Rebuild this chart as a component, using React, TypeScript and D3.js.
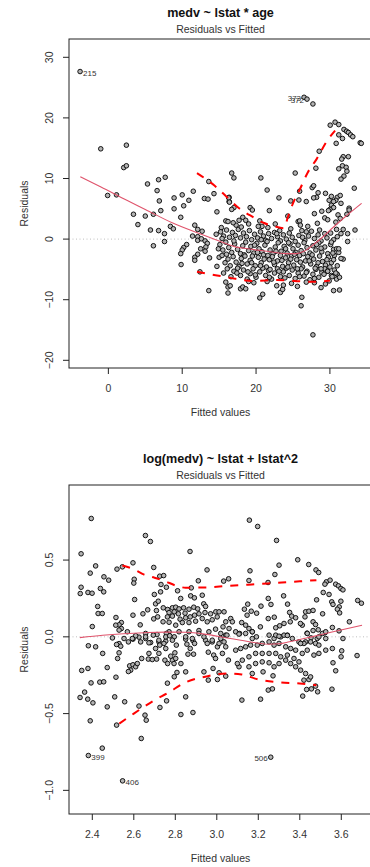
import React from 'react';
import * as d3 from 'd3';

// ---- panel 1: medv ~ lstat * age, [fitted, residual] ----
const pointsAge: [number, number][] = [
  [-3.83,27.65],[26.5,23.4],[26.9,23.1],[27.7,22.3],
  [-1.03,14.9],[2.44,15.5],[2.08,11.8],[2.44,12.1],
  [30.04,18.8],[30.7,19.3],[31.2,18.9],[31.9,18.1],[32.25,17.8],[32.5,17.6],[32.8,17.2],[33.1,16.9],
  [31.2,17.2],[31.7,16.6],[30.85,15.8],[34.1,15.9],[34.25,15.8],[28.55,14.5],[31.8,13.6],[32.5,13.6],
  [31.6,13.2],[31.2,11.6],[31.7,12.1],[32.2,11.85],[32.3,11.2],[31.9,10.4],[31.5,9.9],[28.1,11.7],
  [25.3,10.9],[16.7,10.9],[17.0,10.1],[20.65,10.1],[21.5,8.1],[25.9,7.9],[27.6,8.5],[27.8,8.8],
  [33.3,8.4],[23.1,6.8],[16.35,6.9],[16.35,6.2],[28.4,7.65],[28.2,6.9],[27.8,6.8],[29.4,7.55],
  [30.2,7.05],[31.0,6.9],[31.4,7.2],[31.5,5.9],[29.9,6.4],[24.7,6.3],[25.8,6.45],[26.8,6.2],
  [32.6,5.1],[30.2,5.6],[30.5,5.2],[30.8,6.4],[30.5,6.2],
  [5.3,9.1],[6.8,9.8],[7.7,10.2],[6.6,8.0],[-0.1,7.2],[1.1,7.3],[6.9,6.3],[8.9,6.8],[10.0,7.3],
  [10.9,6.4],[11.5,7.9],[10.2,5.5],[8.9,5.0],[7.1,4.7],[3.4,4.1],[5.0,3.8],[6.1,4.1],[9.8,3.6],
  [4.0,2.4],[5.7,1.5],[6.8,1.4],[7.6,0.9],[8.4,2.1],[8.8,1.7],[7.6,-0.4],[6.1,-1.1],
  [11.7,2.3],[12.1,1.6],[12.7,1.3],[11.4,0.5],[12.1,0.4],[12.1,-0.2],[12.6,0.05],[13.1,-0.3],
  [13.4,-0.7],[13.2,-1.3],[12.5,-1.6],[13.1,-2.0],[12.1,-2.5],[11.7,-3.0],[11.7,-3.5],[10.6,-0.9],
  [10.2,-1.4],[10.0,-1.8],[9.8,-2.4],[9.85,-4.2],[12.4,-5.4],[13.6,-8.5],[13.7,-3.1],[14.7,-4.5],
  [14.9,-1.6],[14.6,0.8],[14.7,4.5],[14.3,7.5],[13.0,6.7],[13.5,6.6],[13.6,9.5],
  [18.2,3.6],[18.6,3.1],[17.7,3.1],[17.3,2.3],[16.9,2.7],[15.9,3.0],[16.2,2.9],[15.3,1.9],[20.5,3.0],
  [20.8,2.1],[20.3,2.1],[25.7,2.9],[25.9,3.0],[26.0,2.3],[24.7,1.7],[27.0,2.1],
  [27.9,4.2],[28.9,4.6],[30.0,4.9],[29.8,4.7],[32.6,4.8],[32.3,4.1],[31.1,4.0],[24.3,3.8],[21.8,4.7],
  [19.2,5.2],[19.5,4.8],[16.3,6.8],[16.4,6.1],[17.0,5.2],[16.7,4.9],[28.3,2.6],[29.3,3.5],[29.7,3.2],
  [30.8,2.8],[30.9,1.6],[31.8,1.6],[31.4,3.4],[32.4,0.9],[33.4,1.5],[22.6,2.5],[23.2,1.4],[19.0,2.5],
  [21.6,1.9],[26.8,1.2],[28.6,1.5],
  [15.2,1.2],[15.6,0.5],[16.0,1.5],[16.4,0.3],[16.8,1.1],[17.2,0.6],[17.6,1.6],[17.9,0.2],[18.3,1.0],
  [18.7,0.4],[19.1,1.4],[19.4,-0.1],[19.8,0.8],[20.2,0.2],[20.6,1.2],[21.0,0.5],[21.3,-0.2],[21.7,0.9],
  [22.1,0.1],[22.5,1.1],[22.9,0.4],[23.3,-0.3],[23.7,0.7],[24.1,0.0],[24.5,1.0],[24.9,0.3],[25.3,-0.4],
  [25.8,0.6],[26.2,1.4],[26.6,-0.2],[27.1,0.5],[27.5,1.3],[27.9,0.1],[28.4,0.7],[28.8,-0.3],[29.3,0.9],
  [29.6,0.2],[30.1,1.0],[30.5,-0.1],[31.0,0.4],[31.5,0.9],
  [15.1,-0.9],[15.5,-1.8],[15.9,-0.5],[16.3,-1.4],[16.7,-2.2],[17.1,-0.8],[17.5,-1.7],[17.9,-2.4],
  [18.2,-1.1],[18.6,-0.5],[19.0,-1.9],[19.3,-1.2],[19.7,-2.3],[20.1,-0.7],[20.4,-1.6],[20.8,-2.1],
  [21.2,-1.0],[21.5,-0.4],[21.9,-1.8],[22.3,-2.4],[22.6,-1.3],[23.0,-0.6],[23.4,-2.0],[23.8,-1.2],
  [24.2,-2.3],[24.6,-0.8],[25.0,-1.6],[25.4,-2.2],[25.7,-1.0],[26.1,-1.9],[26.5,-0.6],[26.9,-1.4],
  [27.3,-2.3],[27.7,-1.1],[28.1,-1.8],[28.5,-0.6],[28.9,-2.1],[29.3,-1.3],[29.7,-2.4],[30.1,-0.9],
  [30.5,-1.7],[30.9,-1.6],[31.2,-2.2],
  [15.0,-3.0],[15.4,-2.7],[15.8,-3.9],[16.2,-3.3],[16.5,-4.4],[16.9,-2.9],[17.3,-3.8],[17.7,-4.5],
  [18.0,-3.2],[18.4,-2.6],[18.8,-4.1],[19.2,-3.5],[19.5,-2.8],[19.9,-4.4],[20.3,-3.0],[20.7,-3.9],
  [21.0,-2.6],[21.4,-4.6],[21.8,-3.4],[22.2,-2.9],[22.5,-4.2],[22.9,-3.6],[23.3,-2.7],[23.6,-4.5],
  [24.0,-3.1],[24.4,-3.9],[24.8,-2.8],[25.1,-4.3],[25.5,-3.4],[25.9,-2.7],[26.3,-4.6],[26.7,-3.6],
  [27.0,-2.9],[27.4,-4.1],[27.8,-3.3],[28.2,-4.5],[28.6,-2.8],[29.0,-3.7],[29.4,-4.3],[29.8,-3.0],
  [30.2,-3.9],[30.6,-2.7],[31.0,-4.4],
  [15.6,-5.6],[16.1,-4.9],[16.6,-6.2],[17.0,-5.3],[17.5,-4.8],[17.9,-6.0],[18.3,-5.1],[18.8,-6.6],
  [19.2,-5.7],[19.6,-4.9],[20.0,-6.3],[20.5,-5.4],[20.9,-4.8],[21.3,-6.0],[21.7,-5.2],[22.1,-6.6],
  [22.5,-5.6],[22.9,-4.9],[23.3,-6.2],[23.7,-5.4],[24.1,-4.8],[24.5,-6.0],[24.9,-5.1],[25.3,-6.5],
  [25.7,-5.6],[26.1,-4.9],[26.5,-6.1],[26.9,-5.3],[27.3,-6.7],[27.7,-5.8],[28.1,-5.0],[28.5,-6.3],
  [28.9,-5.5],[29.3,-4.9],[29.7,-5.3],[30.2,-6.0],[30.6,-5.1],[31.0,-5.8],
  [15.9,-7.1],[16.2,-7.9],[16.5,-7.7],[16.2,-8.9],[17.9,-8.2],[18.2,-7.9],[18.6,-8.2],[19.7,-7.2],
  [20.5,-9.7],[20.9,-9.1],[22.8,-7.7],[23.3,-8.8],[23.6,-8.3],[23.7,-7.6],[26.2,-9.6],[26.1,-11.0],
  [27.7,-15.8],[28.8,-8.0],[30.5,-8.5],[31.3,-8.4],[30.9,-6.6],[31.3,-6.3],[30.3,-6.2],[29.7,-5.3],
  [28.8,-4.9],[31.8,-3.3],[31.2,-1.6],[32.4,-0.4],[30.5,-3.4],
  [21.5,-7.0],[24.8,-7.3],[26.8,-7.1],[29.4,-7.4],[19.0,-7.0],[25.6,-7.8],[27.9,-7.2],
  [18.5,-2.8],[19.4,-3.9],[20.2,-2.2],[21.1,-3.3],[21.9,-5.0],[22.7,-2.0],[23.5,-3.5],[24.3,-4.6],
  [25.2,-2.5],[26.0,-3.8],[26.8,-5.5],[27.6,-2.6],[28.4,-3.9],[29.2,-5.8],[30.0,-4.6],
  [18.9,-5.4],[19.8,-1.0],[20.6,-4.4],[21.6,-2.7],[22.4,-3.8],[23.1,-5.3],[24.0,-1.6],[24.7,-3.3],
  [25.6,-4.9],[26.4,-2.4],[27.2,-3.6],[28.0,-4.8],[28.8,-1.5],[29.6,-3.4],[30.4,-2.3],
  [17.4,-5.6],[18.1,-4.0],[19.9,-5.9],[21.8,-6.3],[23.9,-6.4],[25.9,-6.2],[27.9,-6.5],[29.9,-6.9],
  [20.7,-0.1],[22.8,0.9],[24.4,-0.6],[26.3,0.3],[28.2,-0.9],[30.2,-0.5],[17.0,-0.3],[16.0,-2.5],
  [15.4,0.1],[18.0,2.0],[31.5,-3.2],[30.8,-5.6],
];
const smoothFitAge = [-3.8, -1, 2.5, 5, 8.8, 12.4, 15, 17, 19.5, 21.5, 24, 25.5, 26.5, 27.8, 29, 30.5, 32, 34.3];
const smoothResAge = [10.3, 8.6, 6.4, 4.9, 2.6, 0.9, -0.3, -1.2, -1.7, -2.0, -2.4, -2.4, -2.0, -0.9, 0.3, 2.0, 3.6, 5.9];
const upperFitAge = [12.0, 14.4, 16.0, 17.7, 19.5, 21.0, 22.5, 23.8, 24.3, 25.0, 26.0, 27.0, 28.2, 29.5, 30.7];
const upperResAge = [10.9, 8.8, 7.0, 5.1, 3.7, 2.7, 2.1, 1.8, 3.6, 5.9, 8.4, 11.0, 13.2, 16.0, 17.9];
const lowerFitAge = [12.0, 14.5, 16.5, 19.5, 22.8, 25.2, 27.5, 30.0];
const lowerResAge = [-5.4, -5.95, -6.4, -6.9, -6.75, -6.9, -7.05, -6.85];
const labelsAge = [
  { id: '215', f: -3.83, r: 27.65, side: 'right' },
  { id: '373', f: 26.5, r: 23.4, side: 'left' },
  { id: '372', f: 26.9, r: 23.1, side: 'left' },
];
const xTicksAge = [0, 10, 20, 30];
const yTicksAge = [-20, -10, 0, 10, 20, 30];

// ---- panel 2: log(medv) ~ lstat + lstat^2 ----
const pointsLog: [number, number][] = [
  [2.395,0.771],[2.656,0.660],[2.680,0.621],[2.346,0.541],[2.871,0.556],[2.416,0.462],[2.390,0.415],
  [2.456,0.391],[2.479,0.369],[2.519,0.441],[2.545,0.456],[2.596,0.482],[2.696,0.452],[2.602,0.375],
  [2.600,0.350],[2.725,0.395],[2.744,0.399],[2.731,0.341],[2.757,0.323],[2.346,0.323],[2.342,0.282],
  [2.379,0.289],[2.399,0.284],[2.439,0.315],[2.455,0.293],[2.911,0.365],[2.953,0.436],[2.811,0.300],
  [2.877,0.319],[2.699,0.276],[2.729,0.293],[2.604,0.243],[2.426,0.198],[2.428,0.152],[2.448,0.152],
  [2.514,0.126],[2.540,0.093],[2.529,0.078],[2.540,0.054],[2.513,0.076],[2.400,0.067],[2.596,0.141],
  [2.631,0.078],[2.644,0.150],[2.667,0.176],[2.696,0.117],[2.709,0.171],[2.715,0.130],[2.705,0.215],
  [2.718,0.232],[2.826,0.250],[2.874,0.267],[2.892,0.254],[2.930,0.271],[2.937,0.215],[2.946,0.198],
  [2.742,0.189],[2.763,0.178],[2.786,0.189],[2.802,0.193],[2.818,0.182],[2.840,0.189],[2.866,0.180],
  [2.889,0.193],[2.908,0.182],[2.770,0.158],[2.795,0.163],[2.815,0.150],[2.847,0.154],[2.762,0.130],
  [2.786,0.135],[2.823,0.115],[2.850,0.124],[2.872,0.130],[2.893,0.141],[2.914,0.150],[2.943,0.158],
  [2.970,0.150],[2.995,0.163],[2.741,0.098],[2.770,0.095],[2.802,0.076],[2.834,0.093],[2.866,0.093],
  [2.898,0.102],[2.930,0.119],[2.954,0.098],[2.978,0.111],[3.002,0.130],[2.770,0.033],[2.818,0.033],
  [2.866,0.033],[2.914,0.041],[2.962,0.033],[2.994,0.050],[2.497,-0.007],[2.553,-0.011],[2.596,-0.015],
  [2.625,-0.002],[2.657,-0.011],[2.712,0.015],[2.757,0.022],[2.795,0.000],[2.850,-0.015],[2.885,-0.024],
  [2.946,-0.022],[2.978,-0.033],[2.529,-0.044],[2.574,-0.033],[2.681,-0.037],[2.721,-0.033],[2.754,-0.028],
  [3.157,0.760],[3.197,0.719],[3.288,0.628],[3.390,0.502],[3.443,0.471],[3.300,0.467],[3.280,0.406],
  [3.247,0.354],[3.160,0.430],[3.155,0.367],[3.033,0.363],[3.057,0.378],[3.478,0.436],[3.491,0.419],
  [3.528,0.358],[3.546,0.369],[3.521,0.343],[3.513,0.289],[3.541,0.276],[3.573,0.343],[3.586,0.332],
  [3.598,0.315],[3.608,0.306],[3.679,0.237],[3.697,0.219],[3.322,0.267],[3.481,0.241],[3.341,0.213],
  [3.248,0.250],[3.261,0.211],[3.213,0.200],[3.149,0.213],[3.133,0.180],[3.166,0.167],[3.146,0.141],
  [3.192,0.154],[3.554,0.228],[3.560,0.211],[3.598,0.232],[3.590,0.195],[3.581,0.180],[3.592,0.156],
  [3.510,0.150],[3.639,0.098],[3.608,-0.011],[3.351,0.159],[3.361,0.135],[3.380,0.124],[3.354,0.098],
  [3.248,0.119],[3.277,0.128],[3.324,0.087],[3.303,0.072],[3.284,0.059],[3.210,0.065],
  [3.428,0.163],[3.444,0.167],[3.464,0.172],[3.425,0.130],[3.464,0.098],[3.476,0.080],[3.412,0.076],
  [3.403,0.087],[3.435,0.024],[3.464,0.041],[3.489,0.046],[3.521,0.026],[3.454,-0.007],[3.484,-0.011],
  [3.525,-0.011],[3.557,0.061],[3.589,0.039],
  [3.011,0.163],[3.035,0.163],[3.043,0.098],[3.067,0.119],[3.075,0.098],[3.030,0.065],[3.059,0.054],
  [3.091,0.033],[3.120,0.093],[3.139,0.076],[3.155,0.054],[3.171,0.033],[3.110,0.022],[3.191,0.000],
  [3.171,-0.011],[3.043,0.011],[3.019,-0.011],[3.252,0.011],[3.276,-0.011],[3.308,0.000],[3.340,0.011],
  [3.364,-0.011],[3.396,-0.033],[3.428,-0.033],
  [2.381,-0.058],[2.416,-0.065],[2.450,-0.108],[2.349,-0.219],[2.379,-0.206],[2.394,-0.300],[2.436,-0.295],
  [2.455,-0.293],[2.363,-0.360],[2.341,-0.395],[2.378,-0.406],[2.403,-0.430],[2.390,-0.547],[2.448,-0.725],
  [2.381,-0.773],[2.546,-0.938],[2.517,-0.575],[2.472,-0.456],[2.508,-0.391],[2.556,-0.423],[2.514,-0.263],
  [2.472,-0.200],[2.529,-0.104],[2.522,-0.141],[2.537,-0.061],[2.517,-0.050],[2.625,-0.451],[2.654,-0.510],
  [2.660,-0.543],[2.636,-0.662],[2.726,-0.460],[2.762,-0.302],[2.758,-0.417],[2.795,-0.260],[2.808,-0.232],
  [2.827,-0.506],[2.850,-0.391],[2.885,-0.493],[2.850,-0.228],[2.938,-0.228],[2.959,-0.282],
  [2.580,-0.189],[2.596,-0.182],[2.609,-0.195],[2.617,-0.174],[2.585,-0.217],[2.574,-0.226],[2.638,-0.141],
  [2.673,-0.108],[2.670,-0.145],[2.689,-0.148],[2.710,-0.145],[2.721,-0.108],[2.705,-0.076],[2.750,-0.152],
  [2.763,-0.174],[2.786,-0.152],[2.802,-0.141],[2.794,-0.174],[2.827,-0.174],[2.778,-0.126],[2.798,-0.104],
  [2.805,-0.054],[2.786,-0.022],[2.754,-0.076],[2.745,-0.043],[2.721,-0.022],[2.725,-0.054],[2.754,0.000],
  [2.773,0.007],[2.694,0.011],[2.657,0.022],[2.673,-0.039],[2.609,0.007],[2.593,-0.011],[2.633,-0.033],
  [2.657,0.000],[2.861,-0.113],[2.888,-0.113],[2.872,-0.076],[2.856,-0.048],[2.893,-0.043],[2.959,-0.100],
  [2.985,-0.119],[2.994,-0.141],[2.954,-0.043],[2.978,-0.022],[3.003,-0.065],[2.982,-0.206],[3.003,-0.278],
  [2.529,0.044],[2.569,0.033],[2.850,0.000],[2.882,-0.011],[2.914,0.022],[2.938,0.000],
  [3.260,-0.784],[3.121,-0.412],[3.211,-0.406],[3.414,-0.386],[3.248,-0.347],[3.268,-0.339],[3.271,-0.254],
  [3.433,-0.343],[3.456,-0.339],[3.486,-0.358],[3.476,-0.321],[3.444,-0.278],[3.420,-0.282],[3.555,-0.341],
  [3.573,-0.221],[3.560,-0.169],[3.599,-0.130],[3.602,-0.091],[3.676,-0.122],[3.056,-0.152],
  [3.011,-0.234],[3.043,-0.256],[3.027,-0.108],[3.011,-0.043],[3.035,-0.033],[3.049,0.011],[3.019,0.022],
  [3.043,-0.065],[3.171,-0.239],[3.223,-0.228],[3.155,-0.195],[3.187,-0.174],[3.219,-0.163],[3.252,-0.169],
  [3.276,-0.195],[3.300,-0.174],[3.332,-0.152],[3.356,-0.174],[3.380,-0.195],[3.404,-0.217],[3.428,-0.239],
  [3.452,-0.261],[3.396,-0.163],[3.372,-0.141],[3.340,-0.119],[3.308,-0.130],[3.284,-0.108],[3.252,-0.108],
  [3.219,-0.108],[3.187,-0.108],[3.155,-0.130],[3.123,-0.152],[3.107,-0.195],[3.099,-0.174],[3.091,-0.087],
  [3.115,-0.076],[3.139,-0.065],[3.163,-0.054],[3.195,-0.054],[3.219,-0.043],[3.252,-0.033],[3.276,-0.054],
  [3.300,-0.043],[3.332,-0.065],[3.356,-0.076],[3.380,-0.087],[3.412,-0.108],[3.436,-0.087],[3.468,-0.119],
  [3.492,-0.108],[3.525,-0.087],[3.557,-0.076],[3.420,-0.043],[3.452,-0.033],[3.476,-0.043],[3.492,-0.054],
  [3.509,0.022],[3.525,0.033],[3.492,0.000],[3.436,0.022],[3.404,-0.043],[3.324,0.011],[3.284,0.011],
  [3.300,0.004],[3.340,0.009],[3.171,0.033],[3.139,0.022],[3.107,0.018],
];
const smoothFitLog = [2.34, 2.45, 2.55, 2.65, 2.75, 2.85, 2.95, 3.05, 3.15, 3.25, 3.30, 3.35, 3.45, 3.55, 3.70];
const smoothResLog = [-0.005, 0.010, 0.020, 0.027, 0.031, 0.030, 0.016, -0.008, -0.030, -0.048, -0.045, -0.032, -0.002, 0.030, 0.076];
const upperFitLog = [2.545, 2.60, 2.65, 2.70, 2.75, 2.80, 2.85, 2.95, 3.05, 3.15, 3.25, 3.35, 3.48];
const upperResLog = [0.465, 0.440, 0.405, 0.385, 0.363, 0.335, 0.320, 0.322, 0.332, 0.340, 0.348, 0.357, 0.369];
const lowerFitLog = [2.53, 2.60, 2.65, 2.70, 2.76, 2.85, 2.95, 3.05, 3.12, 3.20, 3.30, 3.40, 3.48];
const lowerResLog = [-0.565, -0.500, -0.455, -0.412, -0.369, -0.296, -0.258, -0.238, -0.245, -0.278, -0.296, -0.304, -0.315];
const labelsLog = [
  { id: '399', f: 2.381, r: -0.773, side: 'right' },
  { id: '406', f: 2.546, r: -0.938, side: 'right' },
  { id: '506', f: 3.260, r: -0.784, side: 'left' },
];
const xTicksLog = [2.4, 2.6, 2.8, 3.0, 3.2, 3.4, 3.6];
const yTicksLog = [-1.0, -0.5, 0.0, 0.5];

const FONT = '"Liberation Sans", Arial, Helvetica, sans-serif';
const LEFT = 69, RIGHT = 372, H = 329;

const Panel = ({ id, top, title, points, xDom, yDom, xTicks, yTicks, fmtX, fmtY,
  smooth, upper, lower, labels }: any) => {
  const bottom = top + H;
  const x = d3.scaleLinear().domain(xDom).range([LEFT, RIGHT]);
  const y = d3.scaleLinear().domain(yDom).range([bottom, top]);
  const line = d3.line<[number, number]>().x(d => x(d[0])).y(d => y(d[1])).curve(d3.curveMonotoneX);
  const cx = (LEFT + RIGHT) / 2;
  const cy = (top + bottom) / 2;
  return (
    <g>
      <defs>
        <clipPath id={id}><rect x={LEFT} y={top} width={RIGHT - LEFT} height={H} /></clipPath>
      </defs>
      <text x={cx} y={top - 22} textAnchor="middle" fontWeight="bold" fontSize={12.6} fill="#111">{title}</text>
      <text x={cx} y={top - 6} textAnchor="middle" fontSize={10.5} fill="#333">Residuals vs Fitted</text>
      <g clipPath={`url(#${id})`}>
        <line x1={LEFT} x2={RIGHT} y1={y(0)} y2={y(0)} stroke="#bebebe" strokeDasharray="1,2.5" />
        {points.map((p: [number, number], i: number) => (
          <circle key={i} cx={x(p[0])} cy={y(p[1])} r={2.3} fill="#b3b3b3" stroke="#000" strokeWidth={0.9} />
        ))}
        <path d={line(d3.zip(smooth[0], smooth[1]) as any) || ''} fill="none" stroke="#DF536B" strokeWidth={1.1} />
        <path d={line(d3.zip(upper[0], upper[1]) as any) || ''} fill="none" stroke="#FF0000" strokeWidth={2} strokeDasharray="8,8" />
        <path d={line(d3.zip(lower[0], lower[1]) as any) || ''} fill="none" stroke="#FF0000" strokeWidth={2} strokeDasharray="8,8" />
      </g>
      {labels.map((l: any) => (
        <text key={l.id} x={x(l.f) + (l.side === 'right' ? 3 : -3)} y={y(l.r) + 1.2} dy="0.35em"
          textAnchor={l.side === 'right' ? 'start' : 'end'} fontSize={8} fill="#333">{l.id}</text>
      ))}
      <rect x={LEFT} y={top} width={RIGHT - LEFT} height={H} fill="none" stroke="#222" strokeWidth={1} />
      {xTicks.map((t: number) => (
        <g key={t}>
          <line x1={x(t)} x2={x(t)} y1={bottom} y2={bottom + 6} stroke="#222" />
          <text x={x(t)} y={bottom + 23.8} textAnchor="middle" fontSize={10.5} fill="#333">{fmtX(t)}</text>
        </g>
      ))}
      {yTicks.map((t: number) => (
        <g key={t}>
          <line x1={LEFT - 6} x2={LEFT} y1={y(t)} y2={y(t)} stroke="#222" />
          <text transform={`translate(${LEFT - 15.7},${y(t)}) rotate(-90)`} textAnchor="middle" fontSize={10.5} fill="#333">{fmtY(t)}</text>
        </g>
      ))}
      <text x={cx} y={bottom + 48} textAnchor="middle" fontSize={10.5} fill="#333">Fitted values</text>
      <text transform={`translate(${LEFT - 40.7},${cy}) rotate(-90)`} textAnchor="middle" fontSize={10.5} fill="#333">Residuals</text>
    </g>
  );
};

export default function App() {
  return (
    <svg width={370} height={867} style={{ position: 'absolute', left: 0, top: 0, display: 'block', background: '#fff' }}
      fontFamily={FONT}>
      <Panel id="clipAge" top={39} title="medv ~ lstat * age" points={pointsAge}
        xDom={[-5.33, 35.7]} yDom={[-21.27, 33.02]} xTicks={xTicksAge} yTicks={yTicksAge}
        fmtX={d3.format('d')} fmtY={d3.format('d')}
        smooth={[smoothFitAge, smoothResAge]} upper={[upperFitAge, upperResAge]} lower={[lowerFitAge, lowerResAge]}
        labels={labelsAge} />
      <Panel id="clipLog" top={485} title="log(medv) ~ lstat + lstat^2" points={pointsLog}
        xDom={[2.2877, 3.748]} yDom={[-1.154, 0.989]} xTicks={xTicksLog} yTicks={yTicksLog}
        fmtX={d3.format('.1f')} fmtY={d3.format('.1f')}
        smooth={[smoothFitLog, smoothResLog]} upper={[upperFitLog, upperResLog]} lower={[lowerFitLog, lowerResLog]}
        labels={labelsLog} />
    </svg>
  );
}
